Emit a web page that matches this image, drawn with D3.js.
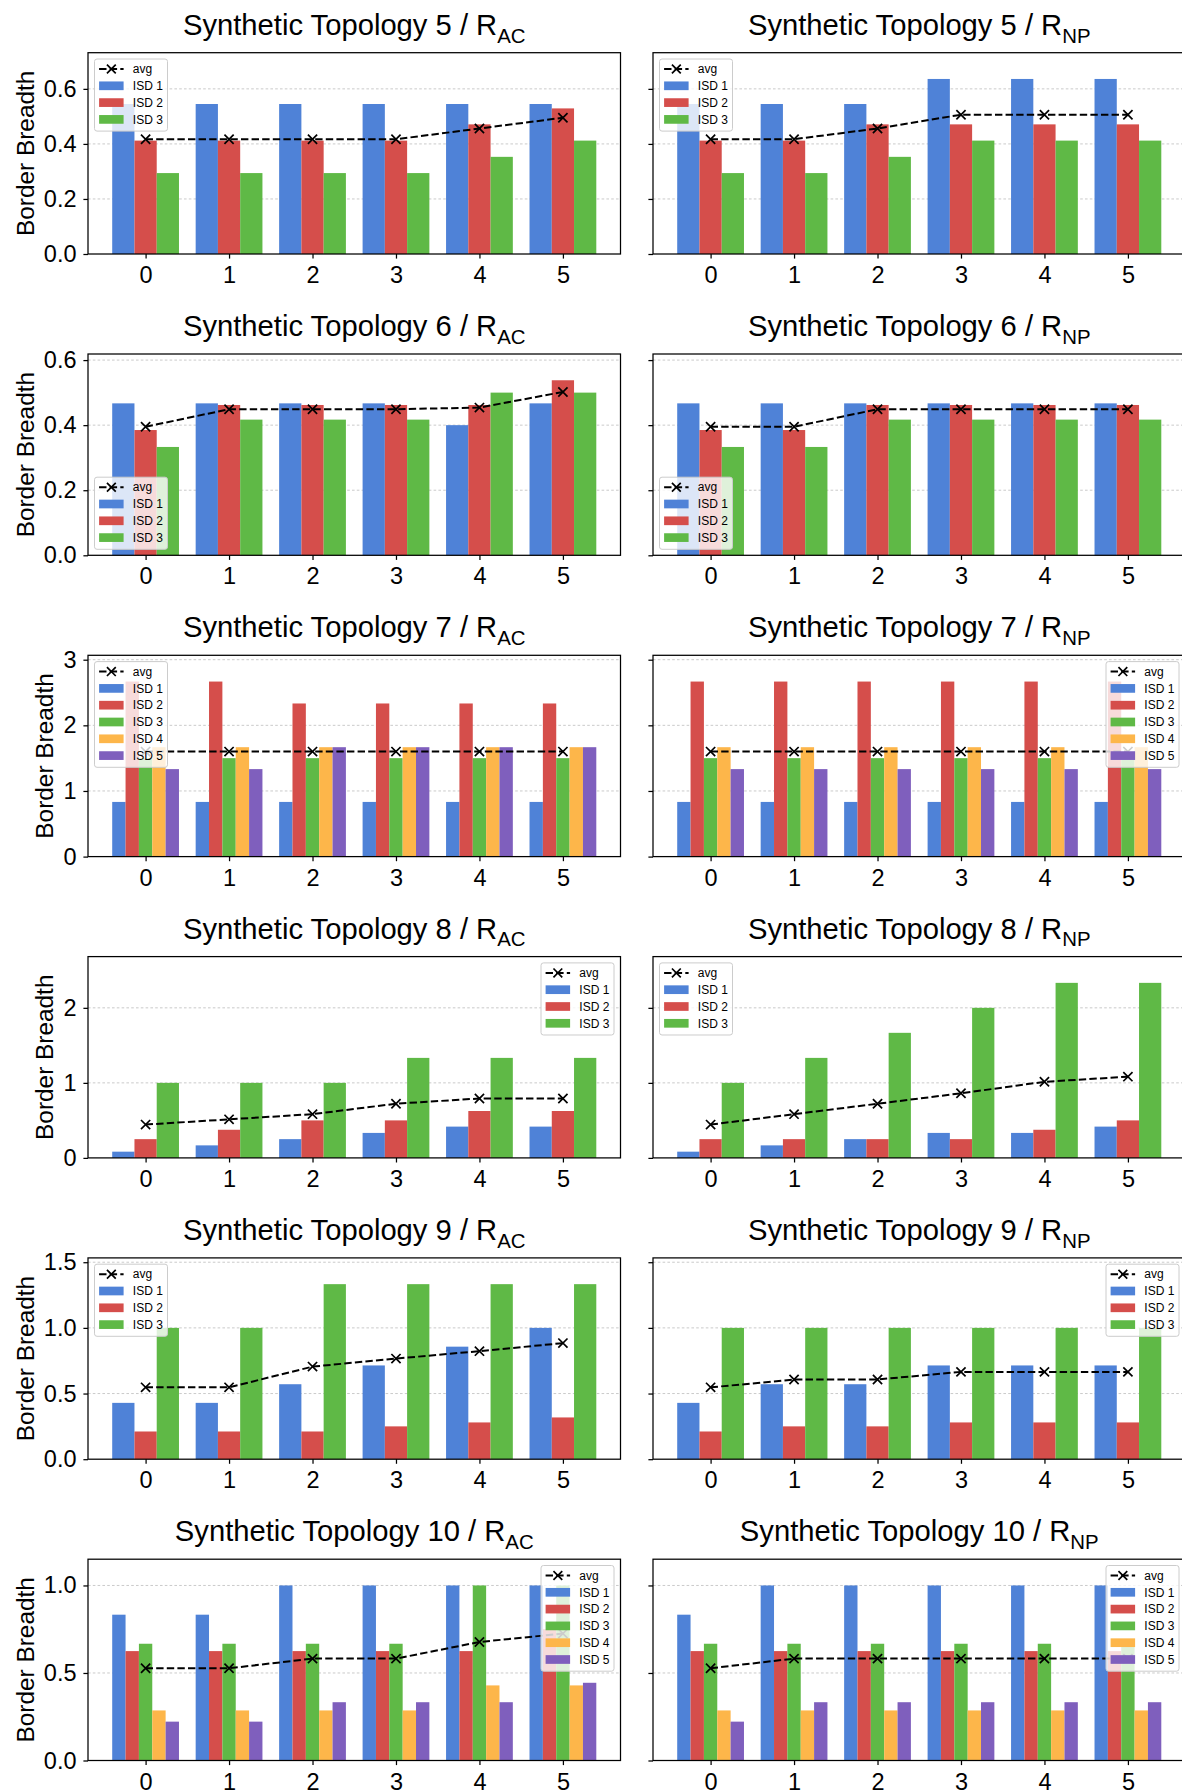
<!DOCTYPE html>
<html>
<head>
<meta charset="utf-8">
<script src="https://cdn.jsdelivr.net/npm/d3@7"></script>
<style>
  body { margin: 0; background: #fff; }
  svg { display: block; }
</style>
</head>
<body>
<svg id="fig" width="1182" height="1791"></svg>
<script>
// ---- data ---------------------------------------------------------------
const groups = [0, 1, 2, 3, 4, 5];
const isdNames = ["ISD 1", "ISD 2", "ISD 3", "ISD 4", "ISD 5"];
const avgName = "avg";

// Synthetic Topology 5
const topo5AC = [
  [0.545, 0.545, 0.545, 0.545, 0.545, 0.545],
  [0.412, 0.412, 0.412, 0.412, 0.471, 0.529],
  [0.294, 0.294, 0.294, 0.294, 0.353, 0.412]
];
const topo5ACAvg = [0.417, 0.417, 0.417, 0.417, 0.456, 0.495];
const topo5NP = [
  [0.545, 0.545, 0.545, 0.636, 0.636, 0.636],
  [0.412, 0.412, 0.471, 0.471, 0.471, 0.471],
  [0.294, 0.294, 0.353, 0.412, 0.412, 0.412]
];
const topo5NPAvg = [0.417, 0.417, 0.456, 0.506, 0.506, 0.506];

// Synthetic Topology 6
const topo6AC = [
  [0.467, 0.467, 0.467, 0.467, 0.400, 0.467],
  [0.385, 0.462, 0.462, 0.462, 0.462, 0.538],
  [0.333, 0.417, 0.417, 0.417, 0.500, 0.500]
];
const topo6ACAvg = [0.395, 0.449, 0.449, 0.449, 0.454, 0.502];
const topo6NP = [
  [0.467, 0.467, 0.467, 0.467, 0.467, 0.467],
  [0.385, 0.385, 0.462, 0.462, 0.462, 0.462],
  [0.333, 0.333, 0.417, 0.417, 0.417, 0.417]
];
const topo6NPAvg = [0.395, 0.395, 0.449, 0.449, 0.449, 0.449];

// Synthetic Topology 7
const topo7AC = [
  [0.833, 0.833, 0.833, 0.833, 0.833, 0.833],
  [2.667, 2.667, 2.333, 2.333, 2.333, 2.333],
  [1.500, 1.500, 1.500, 1.500, 1.500, 1.500],
  [1.667, 1.667, 1.667, 1.667, 1.667, 1.667],
  [1.333, 1.333, 1.667, 1.667, 1.667, 1.667]
];
const topo7ACAvg = [1.6, 1.6, 1.6, 1.6, 1.6, 1.6];
const topo7NP = [
  [0.833, 0.833, 0.833, 0.833, 0.833, 0.833],
  [2.667, 2.667, 2.667, 2.667, 2.667, 2.667],
  [1.500, 1.500, 1.500, 1.500, 1.500, 1.500],
  [1.667, 1.667, 1.667, 1.667, 1.667, 1.667],
  [1.333, 1.333, 1.333, 1.333, 1.333, 1.333]
];
const topo7NPAvg = [1.6, 1.6, 1.6, 1.6, 1.6, 1.6];

// Synthetic Topology 8
const topo8AC = [
  [0.083, 0.167, 0.250, 0.333, 0.417, 0.417],
  [0.250, 0.375, 0.500, 0.500, 0.625, 0.625],
  [1.000, 1.000, 1.000, 1.333, 1.333, 1.333]
];
const topo8ACAvg = [0.444, 0.514, 0.583, 0.722, 0.792, 0.792];
const topo8NP = [
  [0.083, 0.167, 0.250, 0.333, 0.333, 0.417],
  [0.250, 0.250, 0.250, 0.250, 0.375, 0.500],
  [1.000, 1.333, 1.667, 2.000, 2.333, 2.333]
];
const topo8NPAvg = [0.444, 0.583, 0.722, 0.861, 1.014, 1.083];

// Synthetic Topology 9
const topo9AC = [
  [0.429, 0.429, 0.571, 0.714, 0.857, 1.000],
  [0.211, 0.211, 0.211, 0.250, 0.280, 0.318],
  [1.000, 1.000, 1.333, 1.333, 1.333, 1.333]
];
const topo9ACAvg = [0.547, 0.547, 0.705, 0.766, 0.823, 0.884];
const topo9NP = [
  [0.429, 0.571, 0.571, 0.714, 0.714, 0.714],
  [0.211, 0.250, 0.250, 0.280, 0.280, 0.280],
  [1.000, 1.000, 1.000, 1.000, 1.000, 1.000]
];
const topo9NPAvg = [0.547, 0.607, 0.607, 0.665, 0.665, 0.665];

// Synthetic Topology 10
const topo10AC = [
  [0.833, 0.833, 1.000, 1.000, 1.000, 1.000],
  [0.625, 0.625, 0.625, 0.625, 0.625, 0.750],
  [0.667, 0.667, 0.667, 0.667, 1.000, 1.000],
  [0.286, 0.286, 0.286, 0.286, 0.429, 0.429],
  [0.222, 0.222, 0.333, 0.333, 0.333, 0.444]
];
const topo10ACAvg = [0.527, 0.527, 0.582, 0.582, 0.677, 0.725];
const topo10NP = [
  [0.833, 1.000, 1.000, 1.000, 1.000, 1.000],
  [0.625, 0.625, 0.625, 0.625, 0.625, 0.625],
  [0.667, 0.667, 0.667, 0.667, 0.667, 0.667],
  [0.286, 0.286, 0.286, 0.286, 0.286, 0.286],
  [0.222, 0.333, 0.333, 0.333, 0.333, 0.333]
];
const topo10NPAvg = [0.527, 0.582, 0.582, 0.582, 0.582, 0.582];

// y tick values and labels, one list per row of panels
const yTicks5 = [0, 0.2, 0.4, 0.6];
const yTicks6 = [0, 0.2, 0.4, 0.6];
const yTicks7 = [0, 1, 2, 3];
const yTicks8 = [0, 1, 2];
const yTicks9 = [0, 0.5, 1.0, 1.5];
const yTicks10 = [0, 0.5, 1.0];
const yLabels5 = ["0.0", "0.2", "0.4", "0.6"];
const yLabels6 = ["0.0", "0.2", "0.4", "0.6"];
const yLabels7 = ["0", "1", "2", "3"];
const yLabels8 = ["0", "1", "2"];
const yLabels9 = ["0.0", "0.5", "1.0", "1.5"];
const yLabels10 = ["0.0", "0.5", "1.0"];

// ---- styling ------------------------------------------------------------
const isdColors = ["#4f82d7", "#d54e4b", "#5fb946", "#fdb64a", "#7f5fbd"];
const FONT = "'Liberation Sans', Arial, Helvetica, sans-serif";

const rows = [
  { topo: 5, ticks: yTicks5, labels: yLabels5, panels: [
    { metric: "AC", series: topo5AC, avg: topo5ACAvg, legend: "ul" },
    { metric: "NP", series: topo5NP, avg: topo5NPAvg, legend: "ul" } ] },
  { topo: 6, ticks: yTicks6, labels: yLabels6, panels: [
    { metric: "AC", series: topo6AC, avg: topo6ACAvg, legend: "ll" },
    { metric: "NP", series: topo6NP, avg: topo6NPAvg, legend: "ll" } ] },
  { topo: 7, ticks: yTicks7, labels: yLabels7, panels: [
    { metric: "AC", series: topo7AC, avg: topo7ACAvg, legend: "ul" },
    { metric: "NP", series: topo7NP, avg: topo7NPAvg, legend: "ur" } ] },
  { topo: 8, ticks: yTicks8, labels: yLabels8, panels: [
    { metric: "AC", series: topo8AC, avg: topo8ACAvg, legend: "ur" },
    { metric: "NP", series: topo8NP, avg: topo8NPAvg, legend: "ul" } ] },
  { topo: 9, ticks: yTicks9, labels: yLabels9, panels: [
    { metric: "AC", series: topo9AC, avg: topo9ACAvg, legend: "ul" },
    { metric: "NP", series: topo9NP, avg: topo9NPAvg, legend: "ur" } ] },
  { topo: 10, ticks: yTicks10, labels: yLabels10, panels: [
    { metric: "AC", series: topo10AC, avg: topo10ACAvg, legend: "ur" },
    { metric: "NP", series: topo10NP, avg: topo10NPAvg, legend: "ur" } ] }
];

// ---- layout -------------------------------------------------------------
const colX = [88, 653];
const axW = 532.5;
const axH = 201.3;
const rowTop0 = 52.7;
const rowPitch = 301.3;
const tickLen = 4.6;

const svg = d3.select("#fig")
  .attr("font-family", FONT);

svg.append("rect").attr("width", 1182).attr("height", 1791).attr("fill", "#fff");

const x = d3.scaleLinear().domain([-0.69, 5.69]).range([0, axW]);

rows.forEach((row, r) => {
  const top = rowTop0 + r * rowPitch;
  // panels in one row share the y range
  const rowMax = d3.max(row.panels, p => d3.max(p.series, s => d3.max(s)));
  const y = d3.scaleLinear().domain([0, rowMax * 1.15]).range([axH, 0]);

  row.panels.forEach((p, c) => {
    const g = svg.append("g").attr("transform", `translate(${colX[c]},${top})`);

    // horizontal grid
    g.append("g").selectAll("line")
      .data(row.ticks.filter(t => t > 0))
      .join("line")
      .attr("x1", 0).attr("x2", axW)
      .attr("y1", d => y(d)).attr("y2", d => y(d))
      .attr("stroke", "#bdbdbd")
      .attr("stroke-width", 0.8)
      .attr("stroke-dasharray", "2.6,2.2");

    // grouped bars
    const n = p.series.length;
    const w = 0.8 / n;
    p.series.forEach((vals, j) => {
      g.append("g").selectAll("rect")
        .data(vals)
        .join("rect")
        .attr("x", (d, i) => x(groups[i] + (j - (n - 1) / 2) * w - w / 2))
        .attr("width", x(w) - x(0))
        .attr("y", d => y(d))
        .attr("height", d => y(0) - y(d))
        .attr("fill", isdColors[j]);
    });

    // average line with x markers
    const line = d3.line().x((d, i) => x(groups[i])).y(d => y(d));
    g.append("path")
      .datum(p.avg)
      .attr("d", line)
      .attr("fill", "none")
      .attr("stroke", "#000")
      .attr("stroke-width", 2)
      .attr("stroke-dasharray", "7.4,3.2");
    const mk = 4.6;
    g.append("g").selectAll("path")
      .data(p.avg)
      .join("path")
      .attr("transform", (d, i) => `translate(${x(groups[i])},${y(d)})`)
      .attr("d", `M${-mk},${-mk}L${mk},${mk}M${-mk},${mk}L${mk},${-mk}`)
      .attr("stroke", "#000")
      .attr("stroke-width", 1.7)
      .attr("fill", "none");

    // axes
    const yAxis = d3.axisLeft(y)
      .tickValues(row.ticks)
      .tickSize(tickLen)
      .tickPadding(6.9)
      .tickFormat((d, i) => c === 0 ? row.labels[i] : "");
    const ya = g.append("g").call(yAxis)
      .attr("font-size", 23.5).attr("font-family", FONT);
    ya.select(".domain").remove();
    ya.selectAll(".tick line").attr("stroke", "#000").attr("stroke-width", 1.25);
    ya.selectAll(".tick text").attr("fill", "#000");

    const xAxis = d3.axisBottom(x)
      .tickValues(groups)
      .tickSize(tickLen)
      .tickPadding(7.8)
      .tickFormat(d3.format("d"));
    const xa = g.append("g").attr("transform", `translate(0,${axH})`).call(xAxis)
      .attr("font-size", 23.5).attr("font-family", FONT);
    xa.select(".domain").remove();
    xa.selectAll(".tick line").attr("stroke", "#000").attr("stroke-width", 1.25);
    xa.selectAll(".tick text").attr("fill", "#000");

    // frame
    g.append("rect")
      .attr("width", axW).attr("height", axH)
      .attr("fill", "none")
      .attr("stroke", "#000")
      .attr("stroke-width", 1.25);

    // y label (left column only), placed just outside the widest tick label
    if (c === 0) {
      let maxW = 0;
      ya.selectAll(".tick text").each(function () {
        maxW = Math.max(maxW, this.getBBox().width);
      });
      const lx = -(tickLen + 6.9) - maxW - 10;
      g.append("text")
        .attr("transform", `translate(${lx},${axH / 2}) rotate(-90)`)
        .attr("text-anchor", "middle")
        .attr("font-size", 24.4)
        .attr("fill", "#000")
        .text("Border Breadth");
    }

    // title with subscript
    const title = g.append("text")
      .attr("x", axW / 2)
      .attr("y", -18)
      .attr("text-anchor", "middle")
      .attr("font-size", 29.2)
      .attr("fill", "#000");
    title.append("tspan").text(`Synthetic Topology ${row.topo} / R`);
    title.append("tspan").attr("font-size", 20.4).attr("dy", 7.8).text(p.metric);

    // legend
    const nRows = n + 1;
    const legW = 73;
    const legH = nRows * 16.8 + 4.9;
    const legX = p.legend[1] === "l" ? 6.5 : axW - 6.5 - legW;
    const legY = p.legend[0] === "u" ? 6.3 : axH - 6 - legH;
    const lg = g.append("g").attr("transform", `translate(${legX},${legY})`);
    lg.append("rect")
      .attr("width", legW).attr("height", legH)
      .attr("rx", 2.5).attr("ry", 2.5)
      .attr("fill", "#fff").attr("fill-opacity", 0.8)
      .attr("stroke", "#cccccc").attr("stroke-width", 1);
    const hx0 = 4.6, hx1 = 29.1, tx = 38.3;
    const rowC = k => 10 + k * 16.8;
    // avg entry
    lg.append("line")
      .attr("x1", hx0).attr("x2", hx1)
      .attr("y1", rowC(0)).attr("y2", rowC(0))
      .attr("stroke", "#000").attr("stroke-width", 2)
      .attr("stroke-dasharray", "7.4,3.2");
    const hm = 4.4, hc = (hx0 + hx1) / 2;
    lg.append("path")
      .attr("transform", `translate(${hc},${rowC(0)})`)
      .attr("d", `M${-hm},${-hm}L${hm},${hm}M${-hm},${hm}L${hm},${-hm}`)
      .attr("stroke", "#000").attr("stroke-width", 1.7);
    const entries = [avgName].concat(isdNames.slice(0, n));
    lg.selectAll("rect.sw")
      .data(isdNames.slice(0, n))
      .join("rect")
      .attr("class", "sw")
      .attr("x", hx0)
      .attr("y", (d, k) => rowC(k + 1) - 4.35)
      .attr("width", hx1 - hx0)
      .attr("height", 8.7)
      .attr("fill", (d, k) => isdColors[k]);
    lg.selectAll("text")
      .data(entries)
      .join("text")
      .attr("x", tx)
      .attr("y", (d, k) => rowC(k) + 4.3)
      .attr("font-size", 12)
      .attr("fill", "#000")
      .text(d => d);
  });
});
</script>
</body>
</html>
